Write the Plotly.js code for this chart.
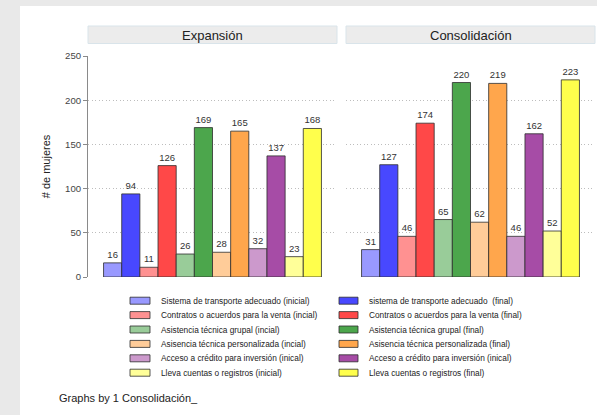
<!DOCTYPE html>
<html>
<head>
<meta charset="utf-8">
<script src="https://cdn.plot.ly/plotly-3.0.1.min.js"></script>
<style>
  html, body { margin: 0; padding: 0; background: #e9e9e9; width: 597px; height: 415px; overflow: hidden; }
  #chart { position: absolute; left: 20px; top: 6px; width: 577px; height: 409px; background: #ffffff; }
</style>
</head>
<body>
<div id="chart"></div>
<script>
// ---- data ----
const panels = ["Expansión", "Consolidación"];
const seriesNames = [
  "Sistema de transporte adecuado (inicial)",
  "sistema de transporte adecuado  (final)",
  "Contratos o acuerdos para la venta (incial)",
  "Contratos o acuerdos para la venta (final)",
  "Asistencia técnica grupal (incial)",
  "Asistencia técnica grupal (final)",
  "Asisencia técnica personalizada (incial)",
  "Asisencia técnica personalizada (final)",
  "Acceso a crédito para inversión (inical)",
  "Acceso a crédito para inversión (inical)",
  "Lleva cuentas o registros (inicial)",
  "Lleva cuentas o registros (final)"
];
const valuesExpansion     = [16, 94, 11, 126, 26, 169, 28, 165, 32, 137, 23, 168];
const valuesConsolidacion = [31, 127, 46, 174, 65, 220, 62, 219, 46, 162, 52, 223];
const seriesColors = [
  "#9999ff", "#4848ff",
  "#ff9191", "#ff4848",
  "#99cc99", "#4ca64c",
  "#ffcc99", "#ffa64c",
  "#cc99cc", "#a64ca6",
  "#ffff99", "#ffff4c"
];
const yTicks = [0, 50, 100, 150, 200, 250];
const yTitle = "# de mujeres";
const noteText = "Graphs by 1 Consolidación_";

// ---- geometry (px inside the chart div) ----
const W = 577, H = 409;
const M = { l: 68, r: 2, t: 50, b: 138 };
const plotW = W - M.l - M.r, plotH = H - M.t - M.b;
const panelW = 249, panelGap = 9;
const px2x = px => (px - M.l) / plotW;
const py2y = py => (H - M.b - py) / plotH;

const domains = [[0, panelW / plotW], [(panelW + panelGap) / plotW, 1]];
const allValues = [valuesExpansion, valuesConsolidacion];

const traces = [];
allValues.forEach((vals, p) => {
  seriesNames.forEach((name, i) => {
    traces.push({
      type: "bar",
      name: name,
      x: [panels[p]],
      y: [vals[i]],
      xaxis: p === 0 ? "x" : "x2",
      yaxis: p === 0 ? "y" : "y2",
      marker: { color: seriesColors[i], line: { color: "rgba(45,45,45,0.8)", width: 1 } },
      texttemplate: "%{y}",
      textposition: "outside",
      cliponaxis: false,
      textfont: { family: "Liberation Sans, Arial, sans-serif", size: 9.5, color: "#333333" },
      showlegend: false,
      hoverinfo: "name+y"
    });
  });
});

const gridColor = "#bdbdbd";
const yBase = {
  range: [0, 250],
  tickvals: yTicks,
  showgrid: true, gridcolor: gridColor, griddash: "1px,2.5px", gridwidth: 1,
  zeroline: false,
  fixedrange: true
};

const layout = {
  width: W, height: H,
  margin: M,
  paper_bgcolor: "#ffffff",
  plot_bgcolor: "#ffffff",
  font: { family: "Liberation Sans, Arial, sans-serif", color: "#333333" },
  barmode: "group",
  bargap: 0.125,
  bargroupgap: 0,
  showlegend: false,
  xaxis: { domain: domains[0], anchor: "y", type: "category", range: [-0.5, 0.5],
           showticklabels: false, ticks: "", showgrid: false, showline: false, zeroline: false, fixedrange: true },
  xaxis2: { domain: domains[1], anchor: "y2", type: "category", range: [-0.5, 0.5],
            showticklabels: false, ticks: "", showgrid: false, showline: false, zeroline: false, fixedrange: true },
  yaxis: Object.assign({}, yBase, {
    anchor: "x",
    showline: true, linecolor: "#8a8a8a", linewidth: 1,
    ticks: "outside", ticklen: 4, tickcolor: "#8a8a8a",
    tickfont: { size: 9.6, color: "#444444" },
    title: { text: yTitle, font: { size: 11, color: "#222222" }, standoff: 12 }
  }),
  yaxis2: Object.assign({}, yBase, {
    anchor: "x2", matches: "y",
    showline: false, ticks: "", showticklabels: false
  }),
  shapes: [],
  annotations: []
};

// panel header strips + titles
panels.forEach((name, p) => {
  layout.shapes.push({
    type: "rect", xref: "paper", yref: "paper",
    x0: domains[p][0], x1: domains[p][1],
    ysizemode: "pixel", yanchor: 1, y0: 12.5, y1: 30,
    fillcolor: "#ececec", line: { color: "#d9e4ea", width: 1 }, layer: "below"
  });
  layout.annotations.push({
    xref: "paper", yref: "paper",
    x: (domains[p][0] + domains[p][1]) / 2, y: 1, yshift: 21,
    xanchor: "center", yanchor: "middle",
    text: name, showarrow: false,
    font: { size: 13, color: "#222222" }
  });
});

// legend (two columns: inicial | final)
const legRow0 = 294.7, legStep = 14.4;
const colSwatch = [[110, 130], [319, 338]];
const colText = [139, 347];
seriesNames.forEach((name, i) => {
  const col = i % 2, row = Math.floor(i / 2);
  const cy = legRow0 + row * legStep;
  layout.shapes.push({
    type: "rect", xref: "paper", yref: "paper",
    x0: px2x(colSwatch[col][0]), x1: px2x(colSwatch[col][1]),
    y0: py2y(cy + 3.5), y1: py2y(cy - 3.5),
    fillcolor: seriesColors[i], line: { color: "rgba(45,45,45,0.8)", width: 1 }
  });
  layout.annotations.push({
    xref: "paper", yref: "paper",
    x: px2x(colText[col]), y: py2y(cy),
    xanchor: "left", yanchor: "middle",
    text: name, showarrow: false,
    font: { size: 8.3, color: "#222222" }
  });
});

// note
layout.annotations.push({
  xref: "paper", yref: "paper",
  x: px2x(37), y: py2y(392),
  xanchor: "left", yanchor: "middle",
  text: noteText, showarrow: false,
  font: { size: 11, color: "#222222" }
});

Plotly.newPlot("chart", traces, layout, { displayModeBar: false, staticPlot: true });
</script>
</body>
</html>
